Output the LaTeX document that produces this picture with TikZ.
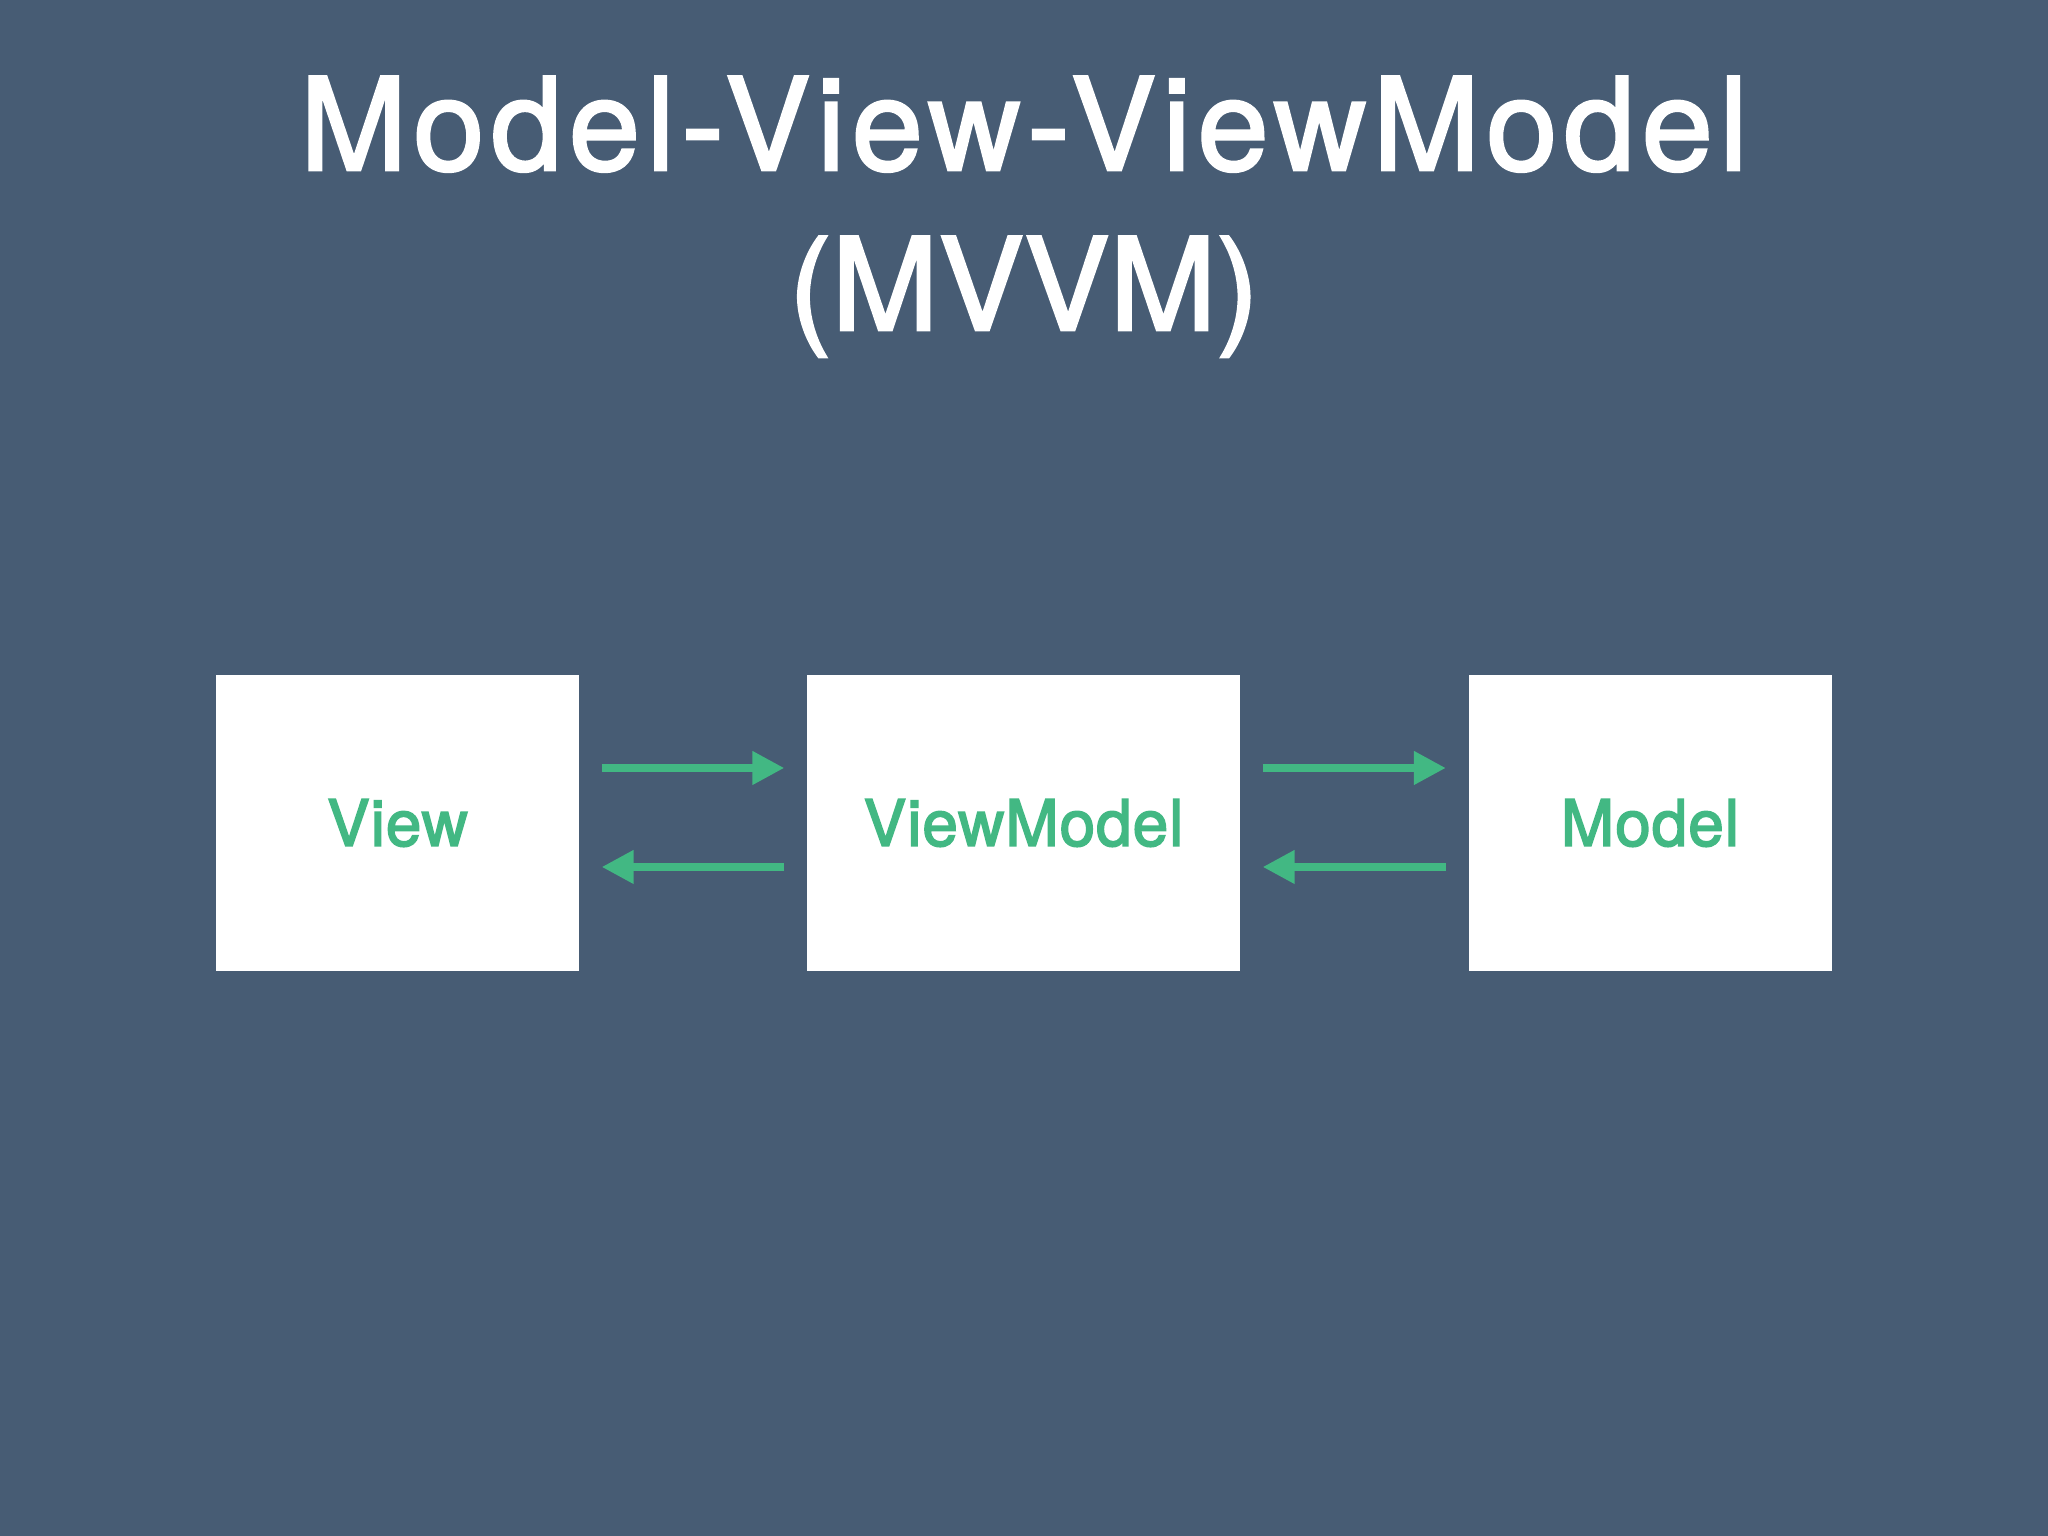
\documentclass[tikz,border=0pt]{standalone}
\usepackage{fontspec}
\setmainfont{TeX Gyre Heros}
\newfontfamily\headfont[FakeBold=2]{TeX Gyre Heros}
\newfontfamily\wideheadfont[FakeBold=2, LetterSpace=5]{TeX Gyre Heros}
\newfontfamily\labelfont[FakeBold=2.5, LetterSpace=1.5]{TeX Gyre Heros}
\usepackage{tikz}
\usetikzlibrary{arrows.meta, positioning}
\definecolor{slatebg}{RGB}{71, 92, 116}
\definecolor{vuegreen}{RGB}{66, 184, 131}

\begin{document}
\begin{tikzpicture}[
    title/.style={text=white, anchor=base, inner sep=0pt, font=\headfont\fontsize{36.5}{44}\selectfont},
    layer/.style={rectangle, fill=white, minimum height=2.96cm, text=vuegreen,
                  inner sep=0pt, font=\labelfont\fontsize{18.2}{22}\selectfont},
    flow/.style={draw=vuegreen, line width=0.075cm, shorten <=2.2mm, shorten >=2.2mm,
                 -{Triangle[length=3.2mm, width=3.2mm]}}
]

% Background
\fill[slatebg] (0,0) rectangle (20.48,15.36);

% Title
\node[title, font=\wideheadfont\fontsize{36.5}{44}\selectfont] (t1) at (10.24,13.66) {Model-View-ViewModel};
\node[title] (t2) at (10.24,12.06) {(MVVM)};

% Layers
\node[layer, minimum width=3.63cm] (view) at (3.975,7.13) {View};
\node[layer, minimum width=4.33cm] (vm) at (10.235,7.13) {ViewModel};
\node[layer, minimum width=3.63cm] (model) at (16.5,7.13) {Model};

% View <-> ViewModel
\draw[flow] ([yshift=5.5mm]view.east) -- ([yshift=5.5mm]vm.west);
\draw[flow] ([yshift=-4.4mm]vm.west) -- ([yshift=-4.4mm]view.east);

% ViewModel <-> Model
\draw[flow] ([yshift=5.5mm]vm.east) -- ([yshift=5.5mm]model.west);
\draw[flow] ([yshift=-4.4mm]model.west) -- ([yshift=-4.4mm]vm.east);

\end{tikzpicture}
\end{document}
